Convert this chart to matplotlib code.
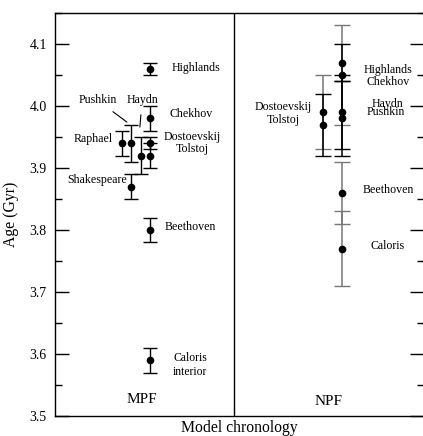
import numpy as np
import matplotlib
matplotlib.use("Agg")
import matplotlib.pyplot as plt
from matplotlib.ticker import MultipleLocator

plt.rcParams['font.family'] = ['Liberation Serif', 'DejaVu Serif']

# MPF model chronology
mpf_names = ['Highlands', 'Chekhov', 'Dostoevskij', 'Tolstoj', 'Raphael', 'Pushkin',
             'Haydn', 'Shakespeare', 'Beethoven', 'Caloris interior']
mpf_age = [4.06, 3.98, 3.94, 3.92, 3.94, 3.94, 3.92, 3.87, 3.80, 3.59]
mpf_err = [0.01, 0.02, 0.01, 0.02, 0.02, 0.03, 0.03, 0.02, 0.02, 0.02]

# NPF model chronology
npf_names = ['Chekhov', 'Highlands', 'Haydn', 'Pushkin', 'Dostoevskij', 'Tolstoj',
             'Beethoven', 'Caloris']
npf_age = [4.05, 4.07, 3.99, 3.98, 3.99, 3.97, 3.86, 3.77]
npf_err = [0.08, 0.03, 0.06, 0.06, 0.06, 0.05, 0.05, 0.06]
npf_gray = [True, False, False, False, True, False, True, True]

# column placement along the x axis (axes units 0..1)
col_main_mpf = 0.257
col_mpf = {'Raphael': 0.181, 'Pushkin': 0.206, 'Haydn': 0.232, 'Shakespeare': 0.206}
col_npf = {'Dostoevskij': 0.725, 'Tolstoj': 0.725}
col_main_npf = 0.779
divider = 0.485

fig = plt.figure(figsize=(4.23, 4.36), dpi=100)
ax = fig.add_axes([55 / 423, 20 / 436, 369 / 423, 403 / 436])

for name, a, e in zip(mpf_names, mpf_age, mpf_err):
    x = col_mpf.get(name, col_main_mpf)
    ax.errorbar(x, a, yerr=e, fmt='o', color='black', ms=4.5, lw=1.0,
                capsize=5, capthick=1.0)

for name, a, e, g in zip(npf_names, npf_age, npf_err, npf_gray):
    x = col_npf.get(name, col_main_npf)
    c = '#777777' if g else 'black'
    ax.errorbar(x, a, yerr=e, fmt='none', ecolor=c, lw=1.1, capsize=6, capthick=1.0)
for name, a in zip(npf_names, npf_age):
    x = col_npf.get(name, col_main_npf)
    ax.plot(x, a, 'o', color='black', ms=4.5)

ax.axvline(divider, color='black', lw=1.0)

ax.set_xlim(0, 1)
ax.set_ylim(3.5, 4.15)
ax.yaxis.set_major_locator(MultipleLocator(0.1))
ax.yaxis.set_minor_locator(MultipleLocator(0.05))
ax.yaxis.set_major_formatter(matplotlib.ticker.FormatStrFormatter('%.1f'))
ax.set_xticks([])
ax.tick_params(axis='y', which='major', direction='in', length=10, width=1,
               labelsize=10, right=True, pad=6)
ax.tick_params(axis='y', which='minor', direction='in', length=5, width=1, right=True)
for s in ax.spines.values():
    s.set_linewidth(1.0)
ax.spines['right'].set_visible(False)

ax.set_ylabel('Age (Gyr)', fontsize=11.3)
ax.yaxis.set_label_coords(-0.097, 0.5)
ax.text(0.5, -0.03, 'Model chronology', transform=ax.transAxes, fontsize=11.3,
        ha='center', va='center')

fs = 8.6
# MPF labels
ax.text(0.317, 4.061, 'Highlands', fontsize=fs, va='center')
ax.text(0.309, 3.987, 'Chekhov', fontsize=fs, va='center')
ax.text(0.371, 3.94, 'Dostoevskij\nTolstoj', fontsize=fs, ha='center', va='center',
        linespacing=1.05)
ax.text(0.157, 3.947, 'Raphael', fontsize=fs, ha='right', va='center')
ax.text(0.195, 3.88, 'Shakespeare', fontsize=fs, ha='right', va='center')
ax.text(0.298, 3.805, 'Beethoven', fontsize=fs, va='center')
ax.text(0.320, 3.582, 'Caloris\ninterior', fontsize=8.4, va='center', linespacing=1.15)
ax.annotate('Pushkin', xy=(0.195, 3.974), xytext=(0.116, 4.009), fontsize=fs,
            ha='center', va='center',
            arrowprops=dict(arrowstyle='-', lw=0.8, color='black',
                            shrinkA=3, shrinkB=0))
ax.annotate('Haydn', xy=(0.230, 3.966), xytext=(0.236, 4.009), fontsize=fs,
            ha='center', va='center',
            arrowprops=dict(arrowstyle='-', lw=0.8, color='black',
                            shrinkA=4, shrinkB=0))
ax.text(0.236, 3.526, 'MPF', fontsize=11, ha='center', va='center')

# NPF labels
ax.text(0.618, 3.988, 'Dostoevskij\nTolstoj', fontsize=fs, ha='center', va='center',
        linespacing=1.05)
ax.text(0.902, 4.049, 'Highlands\nChekhov', fontsize=fs, ha='center', va='center',
        linespacing=1.0)
ax.text(0.900, 4.003, 'Haydn', fontsize=fs, ha='center', va='center')
ax.text(0.897, 3.990, 'Pushkin', fontsize=fs, ha='center', va='center')
ax.text(0.902, 3.865, 'Beethoven', fontsize=fs, ha='center', va='center')
ax.text(0.902, 3.775, 'Caloris', fontsize=fs, ha='center', va='center')
ax.text(0.740, 3.524, 'NPF', fontsize=11, ha='center', va='center')

fig.savefig('out.png', dpi=100)
